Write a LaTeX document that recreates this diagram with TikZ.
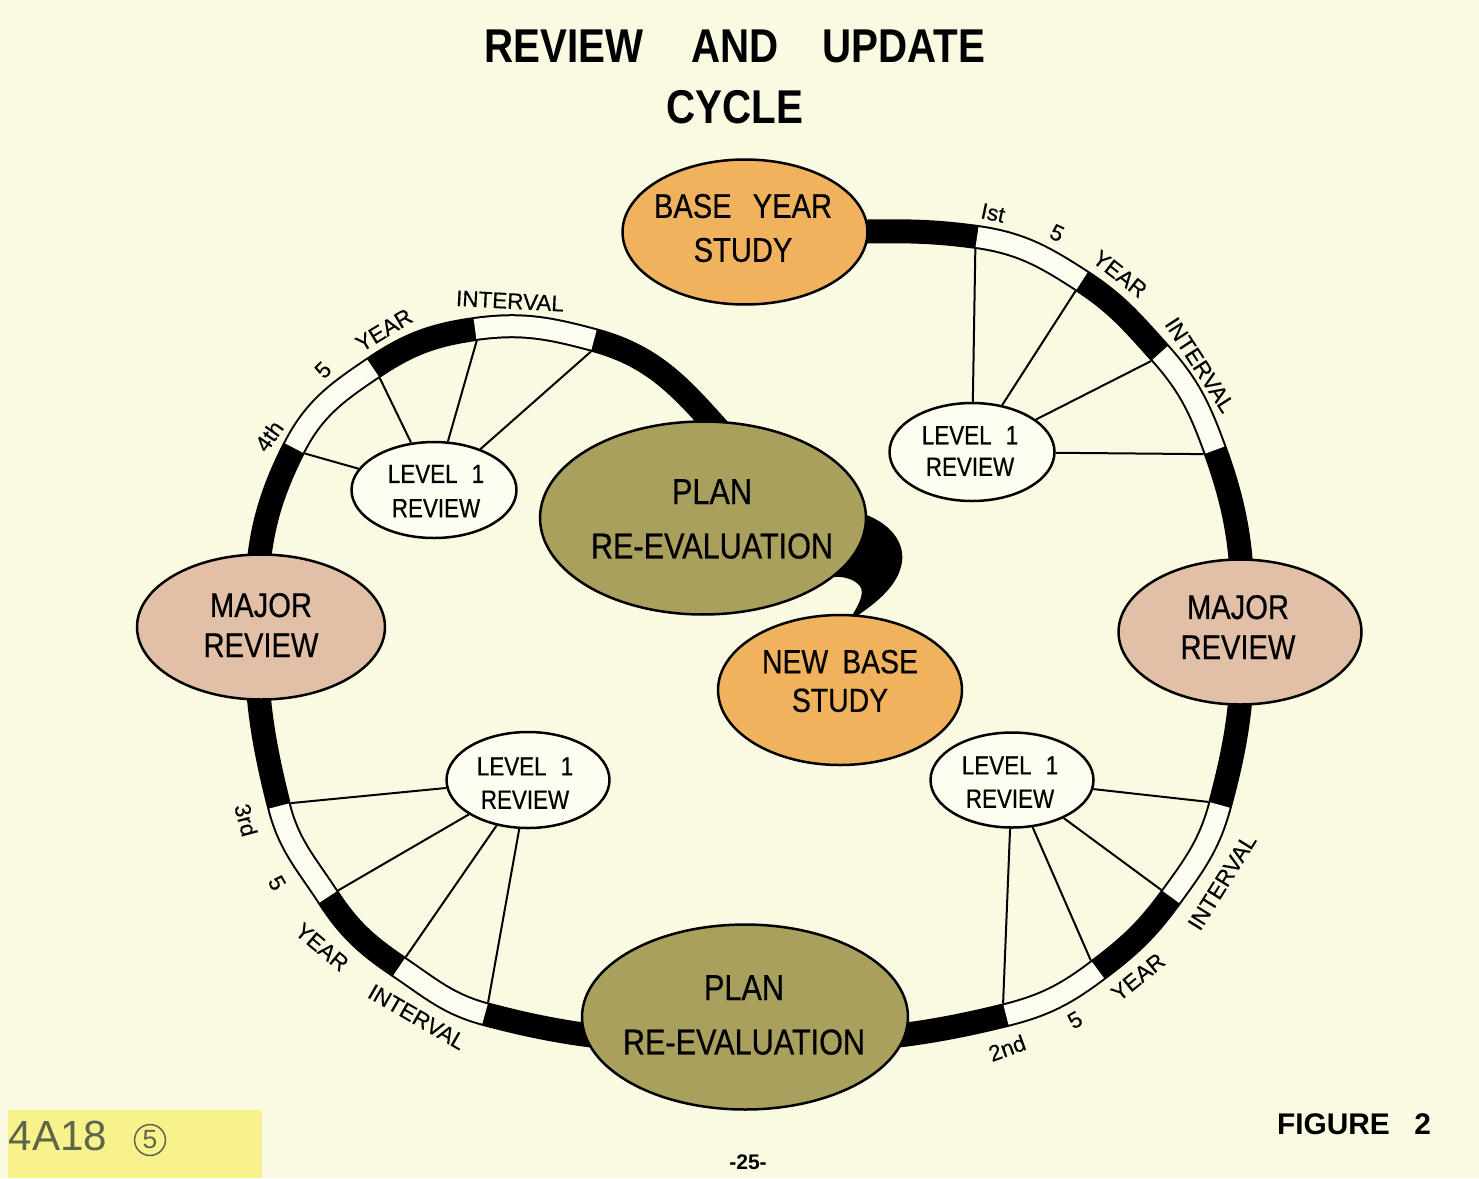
\documentclass[tikz,border=0pt]{standalone}
\usepackage{fontspec}
\setmainfont{Liberation Sans}
\newfontfamily\lettering[FakeStretch=0.85,FakeBold=0.5]{Liberation Sans}
\newfontfamily\titlefont[FakeStretch=0.85]{Liberation Sans}
\newfontfamily\ringfont[FakeBold=0.3]{Liberation Sans}
\usetikzlibrary{shapes.geometric,calc}
\definecolor{paper}{RGB}{250,250,226}
\definecolor{orng}{RGB}{240,178,92}
\definecolor{olv}{RGB}{168,160,92}
\definecolor{pnk}{RGB}{226,192,168}
\definecolor{lvl}{RGB}{253,253,242}
\definecolor{note}{RGB}{248,242,140}
\definecolor{pencil}{RGB}{95,100,75}
\begin{document}
\begin{tikzpicture}[x=0.02cm,y=0.02cm,
  ell/.style={ellipse,draw=black,line width=0.05cm,inner sep=0pt},
  ringband/.style={line width=0.48cm,black},
  ringgap/.style={line width=0.40cm,draw=lvl},
  spoke/.style={line width=0.04cm},
  txt/.style={align=center,inner sep=0pt,text=black},
  rl/.style={font=\ringfont\fontsize{12.8}{14}\selectfont,inner sep=0pt}
]
% background
\fill[paper] (0,0) rectangle (1479,-1178);
\useasboundingbox (0,0) rectangle (1479,-1178);
\fill[note] (8,-1110) rectangle (262,-1178);

% ring centreline points
\coordinate (P0) at (820,-232);
\coordinate (B1) at (977,-237);
\coordinate (B2) at (1082,-281);
\coordinate (B3) at (1160,-353);
\coordinate (B4) at (1215,-450);
\coordinate (R) at (1243,-630);
\coordinate (B5) at (1220,-805);
\coordinate (B6) at (1171,-897);
\coordinate (B7) at (1098,-970);
\coordinate (B8) at (1006,-1015);
\coordinate (Bot) at (745,-1042);
\coordinate (B9) at (485,-1014);
\coordinate (B10) at (399,-967);
\coordinate (B11) at (328,-897);
\coordinate (B12) at (279,-806);
\coordinate (L) at (256,-627);
\coordinate (B13) at (294,-448);
\coordinate (B14) at (373,-368);
\coordinate (B15) at (475,-329);
\coordinate (B16) at (594,-340);
\coordinate (E) at (728,-440);

% inner edge points
\coordinate (B1i) at ($(B1)+(-98:12)$);
\coordinate (B2i) at ($(B2)+(-123:12)$);
\coordinate (B3i) at ($(B3)+(-138:12)$);
\coordinate (B4i) at ($(B4)+(-160:12)$);
\coordinate (B5i) at ($(B5)+(-195:12)$);
\coordinate (B6i) at ($(B6)+(-216:12)$);
\coordinate (B7i) at ($(B7)+(-233:12)$);
\coordinate (B8i) at ($(B8)+(-256:12)$);
\coordinate (B9i) at ($(B9)+(-285:12)$);
\coordinate (B10i) at ($(B10)+(-304:12)$);
\coordinate (B11i) at ($(B11)+(-327:12)$);
\coordinate (B12i) at ($(B12)+(-346:12)$);
\coordinate (B13i) at ($(B13)+(-27:12)$);
\coordinate (B14i) at ($(B14)+(-56:12)$);
\coordinate (B15i) at ($(B15)+(-82:12)$);
\coordinate (B16i) at ($(B16)+(-105:12)$);

% black band
\draw[ringband] (P0) to[out=0,in=172] (B1) to[out=-8,in=147] (B2)
  to[out=-33,in=132] (B3) to[out=-48,in=110] (B4) to[out=-70,in=90] (R)
  to[out=-90,in=75] (B5) to[out=-105,in=54] (B6) to[out=-126,in=37] (B7)
  to[out=-143,in=14] (B8) to[out=-166,in=0] (Bot) to[out=180,in=-15] (B9)
  to[out=165,in=-34] (B10) to[out=146,in=-57] (B11) to[out=123,in=-76] (B12)
  to[out=104,in=-90] (L) to[out=90,in=-117] (B13) to[out=63,in=-146] (B14)
  to[out=34,in=-172] (B15) to[out=8,in=165] (B16) to[out=-15,in=132] (E);
% white interval pieces
\draw[ringgap] (B1) to[out=-8,in=147] (B2);
\draw[ringgap] (B3) to[out=-48,in=110] (B4);
\draw[ringgap] (B5) to[out=-105,in=54] (B6);
\draw[ringgap] (B7) to[out=-143,in=14] (B8);
\draw[ringgap] (B9) to[out=165,in=-34] (B10);
\draw[ringgap] (B11) to[out=123,in=-76] (B12);
\draw[ringgap] (B13) to[out=63,in=-146] (B14);
\draw[ringgap] (B15) to[out=8,in=165] (B16);

% hook from plan re-evaluation to new base study
\fill[black] (850,-510) .. controls (887,-518) and (905,-540) .. (902,-562)
  .. controls (898,-588) and (872,-606) .. (848,-622)
  .. controls (862,-600) and (866,-590) .. (857,-583)
  .. controls (850,-578) and (842,-576) .. (830,-577) -- cycle;

% level 1 ellipses (named first so spokes can use them)
\node[ell,fill=lvl,minimum width=3.3cm,minimum height=1.96cm] (lvlUR) at (972,-452) {};
\node[ell,fill=lvl,minimum width=3.3cm,minimum height=1.92cm] (lvlUL) at (434,-490) {};
\node[ell,fill=lvl,minimum width=3.26cm,minimum height=1.92cm] (lvlLL) at (528,-780) {};
\node[ell,fill=lvl,minimum width=3.26cm,minimum height=1.9cm] (lvlLR) at (1012,-780) {};

% spokes
\draw[spoke] (lvlUR) -- (B1i);
\draw[spoke] (lvlUR) -- (B2i);
\draw[spoke] (lvlUR) -- (B3i);
\draw[spoke] (lvlUR) -- (B4i);
\draw[spoke] (lvlLR) -- (B5i);
\draw[spoke] (lvlLR) -- (B6i);
\draw[spoke] (lvlLR) -- (B7i);
\draw[spoke] (lvlLR) -- (B8i);
\draw[spoke] (lvlLL) -- (B9i);
\draw[spoke] (lvlLL) -- (B10i);
\draw[spoke] (lvlLL) -- (B11i);
\draw[spoke] (lvlLL) -- (B12i);
\draw[spoke] (lvlUL) -- (B13i);
\draw[spoke] (lvlUL) -- (B14i);
\draw[spoke] (lvlUL) -- (B15i);
\draw[spoke] (lvlUL) -- (B16i);

% big ellipses
\node[ell,fill=orng,minimum width=4.9cm,minimum height=2.9cm] (base) at (745,-232) {};
\node[ell,fill=olv,minimum width=6.52cm,minimum height=3.86cm] (plan1) at (703,-518) {};
\node[ell,fill=pnk,minimum width=4.96cm,minimum height=2.9cm] (majL) at (261,-627) {};
\node[ell,fill=pnk,minimum width=4.86cm,minimum height=2.9cm] (majR) at (1240,-632) {};
\node[ell,fill=orng,minimum width=4.88cm,minimum height=3.0cm] (newb) at (840,-690) {};
\node[ell,fill=olv,minimum width=6.52cm,minimum height=3.7cm] (plan2) at (745,-1017) {};

% ellipse texts
\node[txt,font=\lettering\fontsize{19.5}{25}\selectfont] (baseT) at (743,-228) {BASE\hspace{12pt}YEAR\\STUDY};
\node[txt,font=\lettering\fontsize{20.5}{31}\selectfont] (plan1T) at (712,-519) {PLAN\\RE-EVALUATION};
\node[txt,font=\lettering\fontsize{19.5}{22.8}\selectfont] (majLT) at (261,-625) {MAJOR\\REVIEW};
\node[txt,font=\lettering\fontsize{19.5}{22.8}\selectfont] (majRT) at (1238,-627) {MAJOR\\REVIEW};
\node[txt,font=\lettering\fontsize{19}{22}\selectfont] (newbT) at (840,-681) {NEW\hspace{8pt}BASE\\STUDY};
\node[txt,font=\lettering\fontsize{20.5}{31}\selectfont] (plan2T) at (744,-1015) {PLAN\\RE-EVALUATION};
\node[txt,font=\lettering\fontsize{15}{19.5}\selectfont] (lvlULT) at (436,-491) {LEVEL\hspace{8pt}1\\REVIEW};
\node[txt,font=\lettering\fontsize{15}{18}\selectfont] (lvlURT) at (970,-451) {LEVEL\hspace{8pt}1\\REVIEW};
\node[txt,font=\lettering\fontsize{15}{19}\selectfont] (lvlLLT) at (525,-783) {LEVEL\hspace{8pt}1\\REVIEW};
\node[txt,font=\lettering\fontsize{15}{19}\selectfont] (lvlLRT) at (1010,-782) {LEVEL\hspace{8pt}1\\REVIEW};

% ring labels
\node[rl,rotate=-12] (l1a) at (993,-213) {Ist};
\node[rl,rotate=-25] (l1b) at (1057,-233) {5};
\node[rl,rotate=-38] (l1c) at (1120,-274) {YEAR};
\node[rl,rotate=-57] (l1d) at (1200,-365) {INTERVAL};
\node[rl,rotate=55] (l4a) at (269,-436) {4th};
\node[rl,rotate=45] (l4b) at (323,-370) {5};
\node[rl,rotate=31] (l4c) at (384,-330) {YEAR};
\node[rl,rotate=-3] (l4d) at (510,-301) {INTERVAL};
\node[rl,rotate=-75] (l3a) at (246,-820) {3rd};
\node[rl,rotate=-60] (l3b) at (277,-883) {5};
\node[rl,rotate=-40] (l3c) at (322,-947) {YEAR};
\node[rl,rotate=-30] (l3d) at (417,-1017) {INTERVAL};
\node[rl,rotate=20] (l2a) at (1007,-1048) {2nd};
\node[rl,rotate=30] (l2b) at (1075,-1020) {5};
\node[rl,rotate=39] (l2c) at (1138,-977) {YEAR};
\node[rl,rotate=58] (l2d) at (1222,-882) {INTERVAL};

% title and page furniture
\node[txt,font=\titlefont\bfseries\fontsize{27}{35}\selectfont] (title) at (735,-77) {REVIEW\hspace{27pt}AND\hspace{25pt}UPDATE\\CYCLE};
\node[txt,font=\bfseries\fontsize{17}{20}\selectfont] (fig) at (1354,-1124) {FIGURE\hspace{14pt}2};
\node[txt,font=\bfseries\fontsize{12}{14}\selectfont] (page) at (748,-1162) {-25-};
\node[txt,font=\fontsize{24}{26}\selectfont,text=pencil] (hand) at (58,-1136) {4A18};
\node[circle,draw=pencil,line width=0.03cm,inner sep=1.5pt,text=pencil,font=\fontsize{15}{16}\selectfont] (hand5) at (150,-1140) {5};
\end{tikzpicture}
\end{document}
